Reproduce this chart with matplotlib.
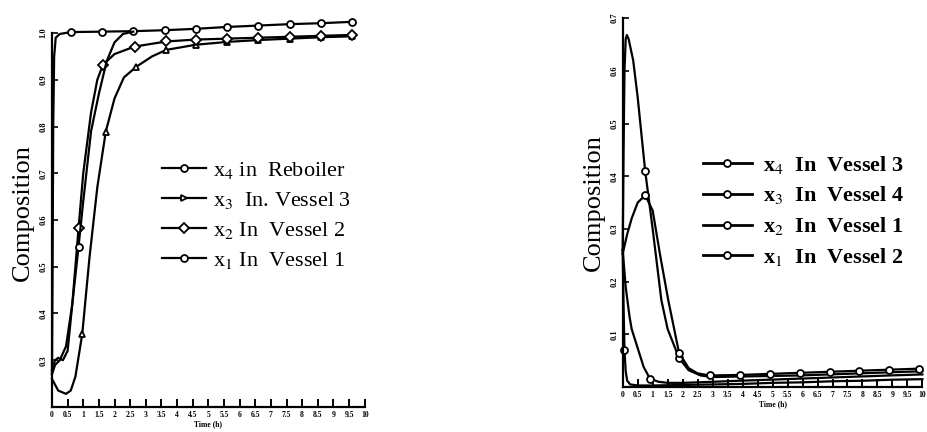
import numpy as np
import matplotlib
matplotlib.use("Agg")
import matplotlib.pyplot as plt
from matplotlib.lines import Line2D

plt.rcParams['font.family'] = ['Liberation Serif', 'DejaVu Serif']
plt.rcParams['mathtext.fontset'] = 'stix'

### data

# left panel
t_x4_l = [0, 0.02, 0.04, 0.07, 0.12, 0.25, 0.6, 1.6, 2.6, 3.6, 4.6, 5.6, 6.6, 7.6, 8.6, 9.6]
x4_l = [0.27, 0.5, 0.8, 0.95, 0.99, 0.998, 1.002, 1.003, 1.004, 1.006, 1.009, 1.013, 1.016, 1.019, 1.021, 1.024]
mk_x4_l = list(range(6, 16))

t_x3_l = [0, 0.2, 0.45, 0.6, 0.75, 0.97, 1.2, 1.45, 1.72, 2.0, 2.3, 2.7, 3.2, 3.66, 4.6, 5.6, 6.6, 7.6, 8.6, 9.6]
x3_l = [0.26, 0.235, 0.228, 0.235, 0.265, 0.357, 0.52, 0.67, 0.789, 0.86, 0.905, 0.928, 0.95, 0.964, 0.975, 0.981, 0.985, 0.988, 0.991, 0.993]
mk_x3_l = [5, 8, 11] + list(range(13, 20))

t_x2_l = [0, 0.1, 0.2, 0.35, 0.5, 0.65, 0.85, 1.0, 1.25, 1.45, 1.63, 2.0, 2.64, 3.66, 4.6, 5.6, 6.6, 7.6, 8.6, 9.6]
x2_l = [0.28, 0.30, 0.305, 0.30, 0.32, 0.42, 0.582, 0.70, 0.83, 0.90, 0.932, 0.955, 0.971, 0.982, 0.986, 0.988, 0.99, 0.992, 0.994, 0.996]
mk_x2_l = [6, 10] + list(range(12, 20))

t_x1_l = [0, 0.1, 0.25, 0.45, 0.65, 0.85, 1.0, 1.25, 1.5, 1.75, 2.0, 2.27, 2.6]
x1_l = [0.27, 0.29, 0.30, 0.33, 0.42, 0.543, 0.64, 0.79, 0.87, 0.94, 0.98, 0.998, 1.003]
mk_x1_l = [5]

# right panel
t_x4_r = [0, 0.03, 0.06, 0.1, 0.14, 0.2, 0.35, 0.5, 0.75, 1.0, 1.29, 1.5, 1.88, 2.2, 2.6, 3.0, 3.9, 4.9, 5.9, 6.9, 7.9, 8.9, 10]
x4_r = [0.26, 0.45, 0.60, 0.66, 0.668, 0.66, 0.62, 0.55, 0.41, 0.30, 0.165, 0.11, 0.055, 0.032, 0.022, 0.019, 0.02, 0.021, 0.022, 0.024, 0.026, 0.028, 0.03]
mk_x4_r = [8, 12]

t_x3_r = [0, 0.15, 0.3, 0.5, 0.75, 1.0, 1.25, 1.52, 1.88, 2.2, 2.5, 2.9, 3.9, 4.9, 5.9, 6.9, 7.9, 8.9, 9.9]
x3_r = [0.253, 0.29, 0.32, 0.35, 0.364, 0.335, 0.25, 0.165, 0.065, 0.036, 0.026, 0.022, 0.023, 0.025, 0.027, 0.029, 0.031, 0.033, 0.035]
mk_x3_r = [4, 8] + list(range(11, 19))

t_x2_r = [0, 0.03, 0.06, 0.1, 0.15, 0.25, 0.5, 1.0, 2.0, 3.0, 4.0, 5.0, 6.0, 7.0, 8.0, 9.0, 10]
x2_r = [0.26, 0.15, 0.07, 0.03, 0.012, 0.005, 0.003, 0.003, 0.004, 0.005, 0.006, 0.008, 0.009, 0.011, 0.012, 0.014, 0.015]
mk_x2_r = [2]

t_x1_r = [0, 0.1, 0.23, 0.3, 0.45, 0.7, 0.91, 1.2, 1.5, 2.0, 3.0, 3.9, 4.9, 5.9, 6.9, 7.9, 8.9, 10]
x1_r = [0.26, 0.19, 0.133, 0.11, 0.083, 0.038, 0.016, 0.01, 0.008, 0.008, 0.01, 0.012, 0.014, 0.016, 0.018, 0.02, 0.022, 0.024]
mk_x1_r = [6]

x_ticks = np.arange(0, 10.01, 0.5)
x_ticklabels = ["0", "0.5", "1", "1.5", "2", "2.5", "3", "3.5", "4", "4.5", "5",
                "5.5", "6", "6.5", "7", "7.5", "8", "8.5", "9", "9.5", "10"]
y_ticks_l = [0.3, 0.4, 0.5, 0.6, 0.7, 0.8, 0.9, 1.0]
y_ticks_r = [0.1, 0.2, 0.3, 0.4, 0.5, 0.6, 0.7]

labels_l = ["x$_4$ in  Reboiler", "x$_3$  In. Vessel 3", "x$_2$ In  Vessel 2", "x$_1$ In  Vessel 1"]
labels_r = ["x$_4$  In  Vessel 3", "x$_3$  In  Vessel 4", "x$_2$  In  Vessel 1", "x$_1$  In  Vessel 2"]


def style_axes(ax, yticks, ylo, yhi):
    for s in ["top", "right"]:
        ax.spines[s].set_visible(False)
    ax.spines["left"].set_linewidth(1.6)
    ax.spines["bottom"].set_linewidth(1.6)
    ax.spines["left"].set_bounds(ylo, yhi)
    ax.set_xticks(x_ticks)
    ax.set_xticklabels(x_ticklabels, fontsize=5.5, fontweight="bold")
    ax.set_yticks(yticks)
    ax.set_yticklabels([f"{v:.1f}" for v in yticks], fontsize=6, fontweight="bold", rotation=90, va="center")
    ax.tick_params(axis="x", direction="in", length=6, width=1.4, pad=3)
    ax.tick_params(axis="y", direction="in", length=4, width=1.2, pad=3)
    ax.set_xlabel("Time (h)", fontsize=5.5, fontweight="bold", labelpad=1)
    ax.set_ylabel("Composition", fontsize=19, labelpad=4)


def draw(ax, t, v, marker, mk):
    ax.plot(t, v, color="black", lw=1.6, marker=marker, markevery=mk, ms=5,
            mfc="white", mec="black", mew=1.3, clip_on=False)


fig = plt.figure(figsize=(9.28, 4.32), dpi=100)

ax1 = fig.add_axes([0.056, 0.058, 0.337, 0.898])
draw(ax1, t_x4_l, x4_l, "o", mk_x4_l)
draw(ax1, t_x3_l, x3_l, "^", mk_x3_l)
draw(ax1, t_x2_l, x2_l, "D", mk_x2_l)
draw(ax1, t_x1_l, x1_l, "o", mk_x1_l)
ax1.set_xlim(0, 10)
ax1.set_ylim(0.2, 1.03)
style_axes(ax1, y_ticks_l, 0.2, 1.0)

handles_l = [Line2D([], [], color="black", lw=1.6, marker=m, ms=5, mfc="white", mec="black", mew=1.3)
             for m in ["o", ">", "D", "o"]]
fig.legend(handles_l, labels_l, loc="upper left", bbox_to_anchor=(0.165, 0.65),
           frameon=False, fontsize=16, handlelength=2.0, handletextpad=0.3,
           labelspacing=0.4, borderaxespad=0)

ax2 = fig.add_axes([0.671, 0.104, 0.323, 0.854])
draw(ax2, t_x4_r, x4_r, "o", mk_x4_r)
draw(ax2, t_x3_r, x3_r, "o", mk_x3_r)
draw(ax2, t_x2_r, x2_r, "o", mk_x2_r)
draw(ax2, t_x1_r, x1_r, "o", mk_x1_r)
ax2.set_xlim(0, 10)
ax2.set_ylim(0, 0.7)
style_axes(ax2, y_ticks_r, 0, 0.7)

handles_r = [Line2D([], [], color="black", lw=2.0, marker="o", ms=5, mfc="white", mec="black", mew=1.3)
             for _ in range(4)]
fig.legend(handles_r, labels_r, loc="upper left", bbox_to_anchor=(0.748, 0.665),
           frameon=False, prop={"size": 16, "weight": "bold"}, handlelength=2.2,
           handletextpad=0.5, labelspacing=0.4, borderaxespad=0)

fig.savefig("out.png", dpi=100)
